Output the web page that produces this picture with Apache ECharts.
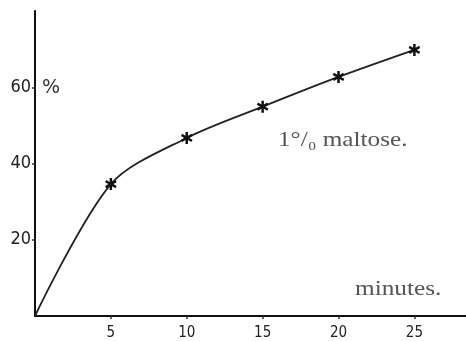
<!DOCTYPE html>
<html><head><meta charset="utf-8">
<script src="https://cdn.jsdelivr.net/npm/echarts@6/dist/echarts.min.js"></script>
<style>html,body{margin:0;padding:0;background:#fff}#c{width:466px;height:341px}</style>
</head><body><div id="c"></div>
<script>
const minutes = [0, 5, 10, 15, 20, 25];
const percent = [0, 34.6, 46.7, 54.9, 62.7, 69.8];
const xTicks = [5, 10, 15, 20, 25];
const yTicks = [20, 40, 60];
const seriesLabel = '1°/₀ maltose.';
const xTitle = 'minutes.';
const yTitle = '%';

// six-armed asterisk marker outline
function starPath() {
  const R = 6, w = 1.25, r = w / Math.sin(Math.PI / 6);
  const pts = [];
  for (let k = 0; k < 6; k++) {
    const a = (90 + 60 * k) * Math.PI / 180;
    const dx = Math.cos(a), dy = Math.sin(a), px = -dy, py = dx;
    pts.push([R * dx - w * px, R * dy - w * py]);
    pts.push([R * dx + w * px, R * dy + w * py]);
    const b = a + Math.PI / 6;
    pts.push([r * Math.cos(b), r * Math.sin(b)]);
  }
  return 'path://M' + pts.map(p => p[0].toFixed(3) + ',' + p[1].toFixed(3)).join(' L') + ' Z';
}

const data = minutes.map((m, i) => i === 0 ? {value: [m, percent[i]], symbol: 'none'} : [m, percent[i]]);

const chart = echarts.init(document.getElementById('c'));
chart.setOption({
  animation: false,
  backgroundColor: '#fff',
  grid: {left: 35, right: 0, top: 11, bottom: 25, containLabel: false},
  xAxis: {
    type: 'value', min: 0, max: 28.4, interval: 5,
    splitLine: {show: false},
    axisLine: {lineStyle: {color: '#111', width: 2}},
    axisTick: {show: true, length: 3, customValues: xTicks, lineStyle: {color: '#333', width: 1.5}},
    axisLabel: {customValues: xTicks, color: '#222', fontSize: 15, fontFamily: 'DejaVu Sans Condensed, DejaVu Sans', margin: 10}
  },
  yAxis: {
    type: 'value', min: 0, max: 80, interval: 20,
    splitLine: {show: false},
    axisLine: {show: true, lineStyle: {color: '#111', width: 2}},
    axisTick: {show: true, length: 3, customValues: yTicks, lineStyle: {color: '#333', width: 1.5}},
    axisLabel: {customValues: yTicks, color: '#222', fontSize: 18, fontFamily: 'DejaVu Sans Condensed, DejaVu Sans', margin: 4}
  },
  graphic: [
    {type: 'text', left: 42, top: 79, style: {text: yTitle, font: '19px DejaVu Sans', fill: '#333'}},
    {type: 'text', x: 278, y: 130, scaleX: 1.2, style: {text: seriesLabel, font: '21px Liberation Serif', fill: '#555'}},
    {type: 'text', x: 355, y: 278, scaleX: 1.15, style: {text: xTitle, font: '22px Liberation Serif', fill: '#555'}}
  ],
  series: [{
    type: 'line', data: data, smooth: 0.3,
    symbol: starPath(), symbolSize: 12, symbolKeepAspect: true,
    itemStyle: {color: '#111'},
    lineStyle: {color: '#222', width: 1.8}
  }]
});
</script></body></html>
